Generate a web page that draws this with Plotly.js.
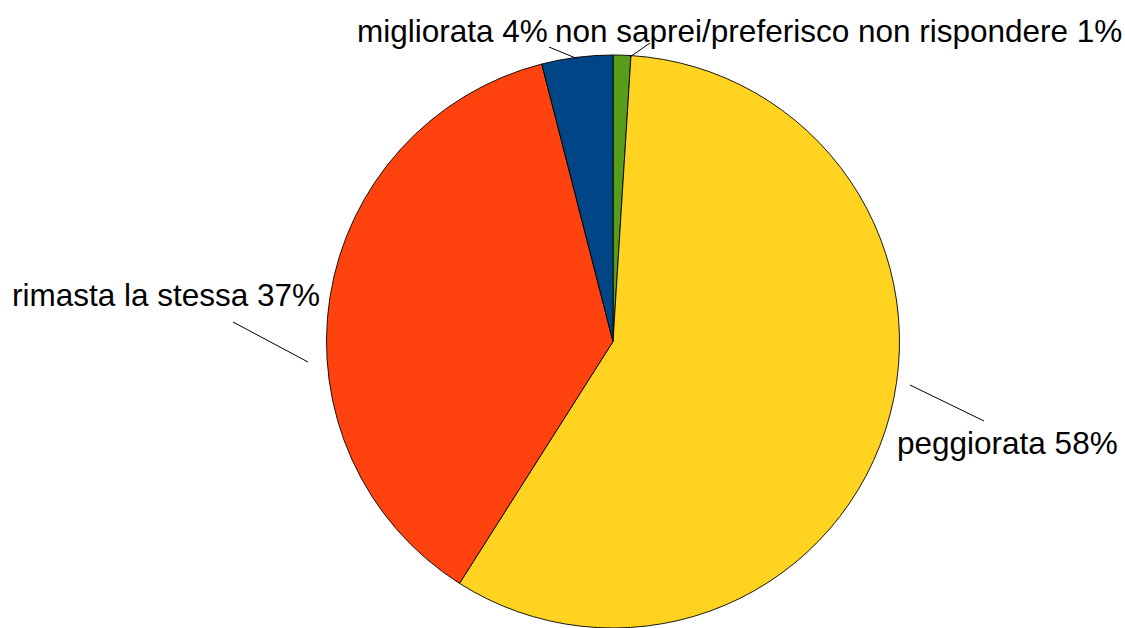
<!DOCTYPE html>
<html>
<head>
<meta charset="utf-8">
<script src="https://cdn.plot.ly/plotly-3.0.1.min.js"></script>
<style>
  html, body { margin: 0; padding: 0; background: #ffffff; }
  #chart { width: 1125px; height: 628px; }
</style>
</head>
<body>
<div id="chart"></div>
<script>
// ---- Data ----
const categories = [
  "non saprei/preferisco non rispondere",
  "peggiorata",
  "rimasta la stessa",
  "migliorata"
];
const values = [1, 58, 37, 4];

// ---- Styles ----
const sliceColors = ["#579d1c", "#ffd320", "#ff420e", "#004586"];
const W = 1125, H = 628;
const M = { l: 0, r: 0, t: 55, b: 0 };
const plotH = H - M.t - M.b;
const px = x => x / W;
const py = y => (H - M.b - y) / plotH;

// label placement (layout only, in pixels)
const labelPos = [
  { x: 553, y: 31, anchor: "left" },
  { x: 895, y: 443, anchor: "left" },
  { x: 10,  y: 295, anchor: "left" },
  { x: 355, y: 31, anchor: "left" }
];
const leaderLines = [
  [650, 43, 630, 57],
  [910, 385, 984, 421],
  [233, 322, 308, 362],
  [549, 47, 578, 59]
];

const trace = {
  type: "pie",
  labels: categories,
  values: values,
  sort: false,
  direction: "clockwise",
  rotation: 0,
  textinfo: "none",
  hoverinfo: "label+percent",
  marker: { colors: sliceColors, line: { color: "#000000", width: 0.9 } },
  domain: { x: [px(613 - 300), px(613 + 300)], y: [0, 1] },
  showlegend: false
};

const total = values.reduce((a, b) => a + b, 0);
const annotations = categories.map((c, i) => ({
  xref: "paper", yref: "paper",
  x: px(labelPos[i].x), y: py(labelPos[i].y),
  xanchor: labelPos[i].anchor, yanchor: "middle",
  text: c + " " + Math.round(values[i] / total * 100) + "%",
  showarrow: false,
  font: { family: "Liberation Sans, Arial, sans-serif", size: 31.5, color: "#000000" }
}));
const shapes = leaderLines.map(l => ({
  type: "line", xref: "paper", yref: "paper",
  x0: px(l[0]), y0: py(l[1]), x1: px(l[2]), y1: py(l[3]),
  line: { color: "#000000", width: 1 }
}));

const layout = {
  width: W, height: H,
  margin: M,
  paper_bgcolor: "#ffffff",
  plot_bgcolor: "#ffffff",
  annotations: annotations,
  shapes: shapes
};

Plotly.newPlot("chart", [trace], layout, { displayModeBar: false, staticPlot: true });
</script>
</body>
</html>
